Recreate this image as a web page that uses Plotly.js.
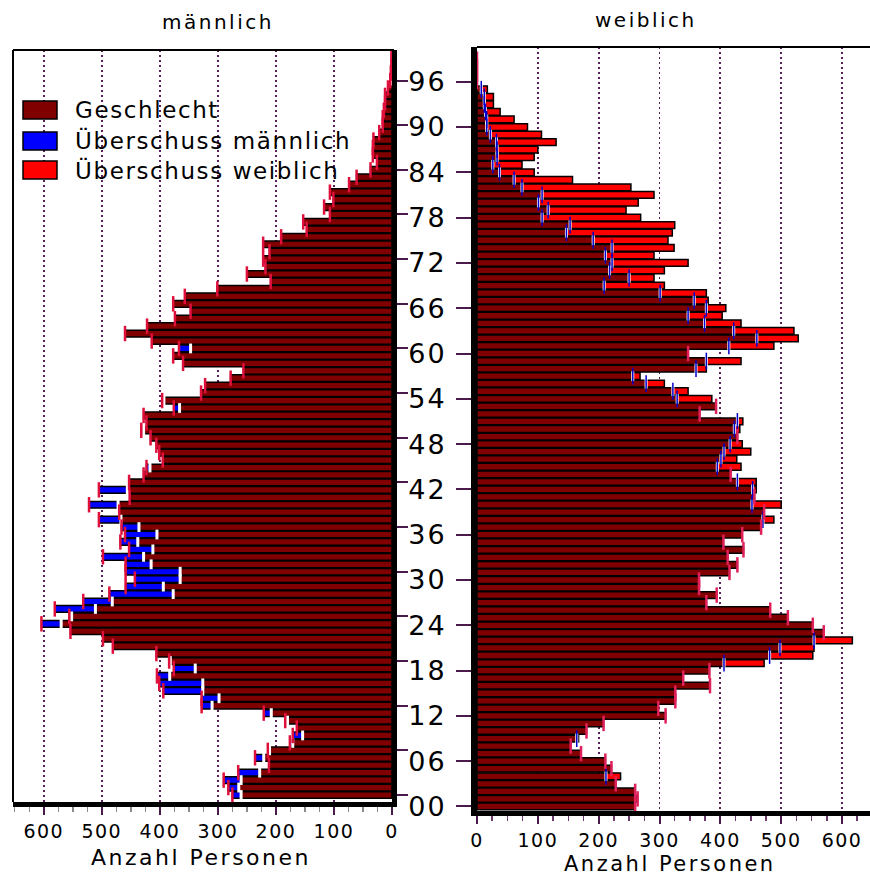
<!DOCTYPE html>
<html><head><meta charset="utf-8">
<script src="https://cdn.plot.ly/plotly-3.0.1.min.js"></script>
<style>
html,body{margin:0;padding:0;background:#fff}#chart{width:870px;height:879px}
.xtick text,.x2tick text{letter-spacing:1.5px}
.y2tick text{letter-spacing:2px}
</style>
</head><body><div id="chart"></div>
<script>
// ---- data ----
const ages = [0,1,2,3,4,5,6,7,8,9,10,11,12,13,14,15,16,17,18,19,20,21,22,23,24,25,26,27,28,29,30,31,32,33,34,35,36,37,38,39,40,41,42,43,44,45,46,47,48,49,50,51,52,53,54,55,56,57,58,59,60,61,62,63,64,65,66,67,68,69,70,71,72,73,74,75,76,77,78,79,80,81,82,83,84,85,86,87,88,89,90,91,92,93,94,95,96,97,98,99];
const male = [275,282,290,265,212,236,214,176,171,164,184,221,328,328,394,401,405,376,384,406,481,498,554,604,556,581,532,487,459,443,459,459,498,453,468,460,466,505,470,522,452,505,453,428,423,395,401,406,416,432,423,428,376,396,329,322,278,256,360,377,367,414,460,422,374,347,377,357,301,209,250,218,222,211,222,191,147,153,107,117,101,107,74,61,37,26,33,33,32,22,16,16,14,12,12,7,3,2,1,1];
const female = [260,264,260,228,236,221,211,171,154,167,180,208,310,298,326,326,383,339,382,472,552,554,617,570,552,511,482,377,394,365,365,415,428,412,438,405,436,467,488,472,500,456,459,459,417,434,427,450,436,428,432,437,366,393,386,347,308,268,377,434,347,488,528,521,434,403,409,380,377,308,291,308,347,291,324,314,321,325,269,245,265,291,253,157,94,74,94,100,130,106,83,61,38,27,27,17,0,0,0,0];
const yTickVals = [0,6,12,18,24,30,36,42,48,54,60,66,72,78,84,90,96];
const yTickText = ['00','06','12','18','24','30','36','42','48','54','60','66','72','78','84','90','96'];
const xTickVals = [0,100,200,300,400,500,600];
const xTickText = ['0','100','200','300','400','500','600'];
const legendLabels = ['Geschlecht','Überschuss männlich','Überschuss weiblich'];
const legendColors = ['#800000','#0000ff','#ff0000'];
const panelTitles = ['männlich','weiblich'];
const axisTitle = 'Anzahl Personen';

// ---- derived ----
const shared = ages.map(i => Math.min(male[i], female[i]));
const maleExcess = ages.map(i => male[i] > female[i] ? male[i] - shared[i] : null);
const femaleExcess = ages.map(i => female[i] > male[i] ? female[i] - shared[i] : null);
const femMarkOnMale = ages.map(i => male[i] > female[i] ? female[i] : null);
const maleMarkOnFem = ages.map(i => female[i] > male[i] ? male[i] : null);
const femEndMark = ages.map(i => male[i] >= female[i] ? female[i] : null);

const W = 870, H = 879;
const px = x => x / W, py = y => 1 - y / H;
const FONT = 'DejaVu Sans, sans-serif';
const PURPLE = '#4a1a4a';
const barLine = {color: '#000', width: 1.5};
const spaced = (t, s) => '<span style="letter-spacing:' + s + 'px">' + t + '</span>';

const traces = [
  {type:'bar', orientation:'h', x:shared, y:ages, base:0, width:0.9, xaxis:'x', yaxis:'y',
   marker:{color:legendColors[0], line:barLine}, name:legendLabels[0], showlegend:false, hoverinfo:'skip'},
  {type:'bar', orientation:'h', x:maleExcess, y:ages, base:shared, width:0.9, xaxis:'x', yaxis:'y',
   marker:{color:legendColors[1], line:barLine}, name:legendLabels[1], showlegend:false, hoverinfo:'skip'},
  {type:'scatter', mode:'markers', x:femMarkOnMale, y:ages, xaxis:'x', yaxis:'y',
   marker:{symbol:'line-ns', size:7, line:{color:'#ffffff', width:3}}, showlegend:false, hoverinfo:'skip'},
  {type:'scatter', mode:'markers', x:male, y:ages, xaxis:'x', yaxis:'y',
   marker:{symbol:'line-ns', size:11, line:{color:'#e0103c', width:2.5}}, showlegend:false, hoverinfo:'skip'},

  {type:'bar', orientation:'h', x:shared, y:ages, base:0, width:0.9, xaxis:'x2', yaxis:'y2',
   marker:{color:legendColors[0], line:barLine}, showlegend:false, hoverinfo:'skip'},
  {type:'bar', orientation:'h', x:femaleExcess, y:ages, base:shared, width:0.9, xaxis:'x2', yaxis:'y2',
   marker:{color:legendColors[2], line:barLine}, name:legendLabels[2], showlegend:false, hoverinfo:'skip'},
  {type:'scatter', mode:'markers', x:maleMarkOnFem, y:ages, xaxis:'x2', yaxis:'y2',
   marker:{symbol:'line-ns', size:7, line:{color:'#ffffff', width:3}}, showlegend:false, hoverinfo:'skip'},
  {type:'scatter', mode:'markers', x:maleMarkOnFem, y:ages, xaxis:'x2', yaxis:'y2',
   marker:{symbol:'line-ns', size:12, line:{color:'#0000cc', width:1.5}}, showlegend:false, hoverinfo:'skip'},
  {type:'scatter', mode:'markers', x:femEndMark, y:ages, xaxis:'x2', yaxis:'y2',
   marker:{symbol:'line-ns', size:11, line:{color:'#e0205a', width:2.5}}, showlegend:false, hoverinfo:'skip'}
];

const xCommon = {
  tickvals:xTickVals, ticktext:xTickText, ticks:'outside', ticklen:8, tickwidth:2, tickcolor:PURPLE,
  showgrid:true, gridcolor:'#5a1f5a', gridwidth:1.8, griddash:'2px,3px', zeroline:false,
  showline:true, linecolor:'#000', linewidth:5, automargin:false, fixedrange:true,
  tickfont:{family:FONT, size:19, color:'#000'}, ticklabelstandoff:0
};

const layout = {
  width:W, height:H, margin:{l:0, r:0, t:0, b:0}, paper_bgcolor:'#fff', plot_bgcolor:'#fff',
  barmode:'overlay', showlegend:false, font:{family:FONT, color:'#000'},
  xaxis: Object.assign({}, xCommon, {domain:[px(13), px(392)], range:[653, 0], anchor:'y',
    minor:{tickmode:'linear', tick0:0, dtick:25, ticks:'outside', ticklen:5, tickwidth:1.5, tickcolor:'#8a8a8a', showgrid:false}}),
  yaxis: {domain:[py(802), py(50)], range:[-0.94, 100.1], anchor:'x', side:'right',
    tickvals:yTickVals, ticktext:yTickText, showticklabels:false, ticks:'outside', ticklen:11, tickwidth:2, tickcolor:PURPLE,
    showgrid:false, zeroline:false, showline:true, linecolor:'#000', linewidth:5, automargin:false, fixedrange:true},
  xaxis2: Object.assign({}, xCommon, {domain:[px(477), 1], range:[0, 646], anchor:'y2',
    minor:{tickmode:'linear', tick0:0, dtick:25, ticks:'outside', ticklen:5, tickwidth:1.5, tickcolor:'#6a3a6a', showgrid:false}}),
  yaxis2: {domain:[py(811), py(47)], range:[-0.6, 100.6], anchor:'x2', side:'left',
    tickvals:yTickVals, ticktext:yTickText, showticklabels:true, ticks:'outside', ticklen:15, tickwidth:2, tickcolor:PURPLE,
    tickfont:{family:FONT, size:27, color:'#000'}, ticklabelstandoff:4,
    showgrid:false, zeroline:false, showline:true, linecolor:'#000', linewidth:6, automargin:false, fixedrange:true},
  shapes: [
    {type:'line', xref:'paper', yref:'paper', x0:px(13), x1:px(13), y0:py(50), y1:py(802), line:{color:'#000', width:2}},
    {type:'line', xref:'paper', yref:'paper', x0:px(13), x1:px(394), y0:py(50), y1:py(50), line:{color:'#000', width:2}},
    {type:'line', xref:'paper', yref:'paper', x0:px(477), x1:1, y0:py(47), y1:py(47), line:{color:'#000', width:2}}
  ],
  annotations: [
    {xref:'paper', yref:'paper', x:px(218), y:py(22), text:spaced(panelTitles[0], 2.5), showarrow:false, xanchor:'center', yanchor:'middle', font:{family:FONT, size:20}},
    {xref:'paper', yref:'paper', x:px(646), y:py(20), text:spaced(panelTitles[1], 2.5), showarrow:false, xanchor:'center', yanchor:'middle', font:{family:FONT, size:20}},
    {xref:'paper', yref:'paper', x:px(201), y:py(857), text:spaced(axisTitle, 2.5), showarrow:false, xanchor:'center', yanchor:'middle', font:{family:FONT, size:22}},
    {xref:'paper', yref:'paper', x:px(670), y:py(864), text:spaced(axisTitle, 2.5), showarrow:false, xanchor:'center', yanchor:'middle', font:{family:FONT, size:21}}
  ]
};

// manual legend
const legY = [110, 141, 170];
legendLabels.forEach((lab, k) => {
  layout.shapes.push({type:'rect', xref:'paper', yref:'paper', x0:px(23), x1:px(57), y0:py(legY[k]+9), y1:py(legY[k]-9),
    fillcolor:legendColors[k], line:{color:'#000', width:1.5}});
  layout.annotations.push({xref:'paper', yref:'paper', x:px(73), y:py(legY[k]), text:spaced(lab, 1.6), showarrow:false,
    xanchor:'left', yanchor:'middle', font:{family:FONT, size:23}});
});

Plotly.newPlot('chart', traces, layout, {staticPlot:true, displayModeBar:false});
</script></body></html>
